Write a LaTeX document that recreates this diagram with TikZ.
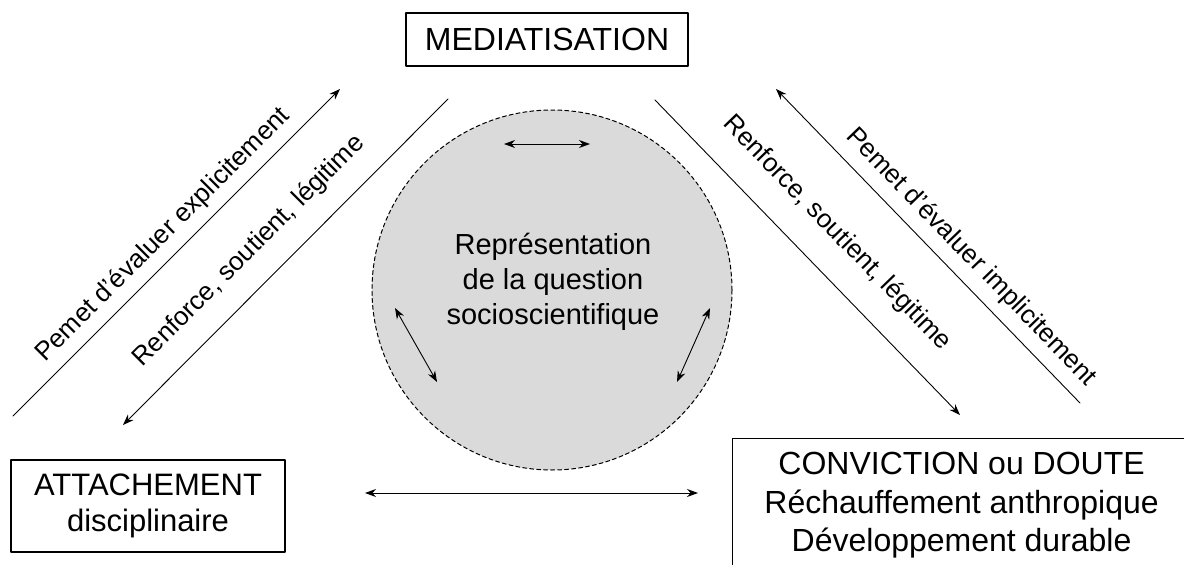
\documentclass[tikz,border=0pt]{standalone}
\usepackage{fontspec}
\setmainfont{Liberation Sans}
\usetikzlibrary{arrows.meta}
\definecolor{qgray}{RGB}{218,218,218}

\begin{document}
\begin{tikzpicture}[x=1pt,y=-1pt,line cap=round,line join=round,
  box/.style={draw,line width=1.2pt,inner sep=0pt,align=center},
  arr/.style={line width=0.9pt,-{Stealth[length=11pt,width=8pt]}},
  dbl/.style={line width=0.9pt,{Stealth[length=11pt,width=8pt]}-{Stealth[length=11pt,width=8pt]}},
  lbl/.style={anchor=base,inner sep=0pt,font=\fontsize{26}{31}\selectfont}]
\clip (0,0) rectangle (1184,565);
\fill[white] (0,0) rectangle (1184,565);

% central circle
\node[circle,draw,fill=qgray,line width=1pt,dash pattern=on 4pt off 3pt,minimum size=360pt,inner sep=0pt] (Q) at (552,290) {};
\node[align=center,inner sep=0pt,font=\fontsize{29}{35}\selectfont] (Qtxt) at (553,282) {Représentation\\de la question\\socioscientifique};

% boxes
\node[box,minimum width=282pt,minimum height=53pt,font=\fontsize{32}{38}\selectfont] (Med) at (547,39.5) {MEDIATISATION};
\node[box,minimum width=274pt,minimum height=92pt,font=\fontsize{31}{36}\selectfont] (Att) at (148,506) {ATTACHEMENT\\disciplinaire};
\node[box,anchor=north west,minimum width=458pt,minimum height=134pt,font=\fontsize{32}{38.5}\selectfont] (Conv) at (732,438) {CONVICTION ou DOUTE\\Réchauffement anthropique\\Développement durable};

% long arrows
\coordinate (L1a) at (13,416);
\coordinate (L1b) at (340,89);
\coordinate (L2a) at (448,99);
\coordinate (L2b) at (123,425);
\coordinate (R1a) at (655,100);
\coordinate (R1b) at (960,415);
\coordinate (R2a) at (1080,403);
\coordinate (R2b) at (776,89);
\draw[arr] (L1a) -- (L1b);
\draw[arr] (L2a) -- (L2b);
\draw[arr] (R1a) -- (R1b);
\draw[arr] (R2a) -- (R2b);

% short double arrows
\coordinate (Ta) at (504,144);
\coordinate (Tb) at (590,144);
\coordinate (Ga) at (395,308);
\coordinate (Gb) at (437,382);
\coordinate (Da) at (710,308);
\coordinate (Db) at (677,382);
\coordinate (Ba) at (365,493);
\coordinate (Bb) at (698,493);
\draw[dbl] (Ta) -- (Tb);
\draw[dbl] (Ga) -- (Gb);
\draw[dbl] (Da) -- (Db);
\draw[dbl] (Ba) -- (Bb);

\node[lbl,rotate=45] (lblL1) at (168,240) {Pemet d'évaluer explicitement};
\node[lbl,rotate=45] (lblL2) at (254,256) {Renforce, soutient, légitime};
\node[lbl,rotate=-46] (lblR1) at (832,238) {Renforce, soutient, légitime};
\node[lbl,rotate=-46] (lblR2) at (966,262) {Pemet d'évaluer implicitement};
\end{tikzpicture}
\end{document}
